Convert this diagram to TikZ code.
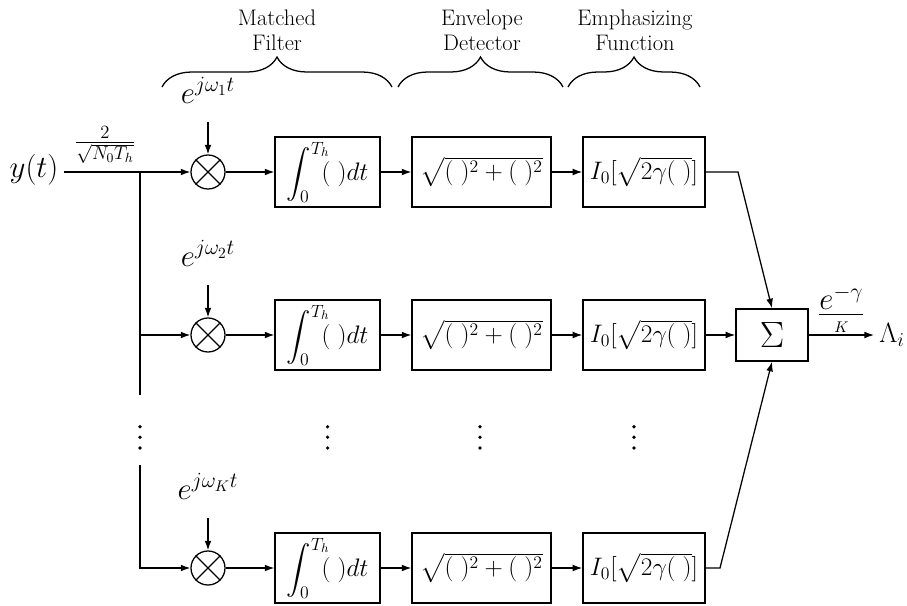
\documentclass[tikz,border=0pt]{standalone}
\usepackage{fix-cm}
\usepackage{amsmath}
\usetikzlibrary{arrows.meta,positioning,calc,decorations.pathreplacing}

\begin{document}
\begin{tikzpicture}[
  font=\fontsize{18}{22}\selectfont,
  >={Latex[length=2.4mm,width=1.7mm]},
  line width=0.9pt,
  block/.style={draw, line width=1pt, minimum height=1.75cm, inner sep=1pt},
  mixer/.style={draw, circle, inner sep=0pt, minimum size=0.85cm},
  biglbl/.style={font=\fontsize{22}{26}\selectfont},
  title/.style={align=center, font=\fontsize{16}{18}\selectfont},
  grp/.style={decorate, decoration={brace, amplitude=0.75cm}},
]
\useasboundingbox (0,0) rectangle (22.675,-15.15);

% Titles over the three stages
\node[title] (tMF) at (6.925,-0.76)  {Matched\\Filter};
\node[title] (tED) at (12.05,-0.76)  {Envelope\\Detector};
\node[title] (tEF) at (15.875,-0.76) {Emphasizing\\Function};

% Braces under the titles
\coordinate (b1l) at (4.05,-2.175);  \coordinate (b1r) at (9.8,-2.175);
\coordinate (b2l) at (9.95,-2.175);  \coordinate (b2r) at (14.075,-2.175);
\coordinate (b3l) at (14.2,-2.175);  \coordinate (b3r) at (17.5,-2.175);
\draw[grp] (b1l) -- (b1r);
\draw[grp] (b2l) -- (b2r);
\draw[grp] (b3l) -- (b3r);

% Input y(t) with gain
\node[biglbl] (yt) at (0.85,-4.25) {$y(t)$};
\coordinate (split) at (3.5,-4.3);
\draw (yt.east |- split) -- (split);
\node[font=\fontsize{19}{22}\selectfont] (gain) at (2.625,-3.62) {$\frac{2}{\sqrt{N_0T_h}}$};

% Branches: mixer -> integrator -> envelope -> emphasizing
\foreach \i/\y/\w in {1/-4.3/1, 2/-8.375/2, 3/-14.2/K} {
  \node[mixer] (m\i) at (5.2,\y) {};
  \draw (m\i.north west) -- (m\i.south east) (m\i.north east) -- (m\i.south west);
  \node[biglbl, anchor=base] (w\i) at (5.2,\y+1.725) {$e^{j\omega_\w t}$};
  \coordinate (a\i) at (5.2,\y+1.25);
  \draw[->] (a\i) -- (m\i);
  \node[block, minimum width=2.625cm] (int\i) at (8.19,\y) {$\displaystyle\int_0^{T_h}\!\!(\;)dt$};
  \node[block, minimum width=3.475cm] (env\i) at (12.04,\y) {$\sqrt{(\;)^2+(\;)^2}$};
  \node[block, minimum width=3.05cm]  (emp\i) at (16.1,\y) {$I_0[\sqrt{2\gamma(\;)}]$};
  \draw[->] (m\i)   -- (int\i);
  \draw[->] (int\i) -- (env\i);
  \draw[->] (env\i) -- (emp\i);
}

% Feed lines from the split point
\coordinate (gapT) at (3.5,-9.875);
\coordinate (gapB) at (3.5,-11.625);
\draw[->] (split) -- (m1);
\draw (split) -- (gapT);
\draw[->] (split |- m2) -- (m2);
\draw[->] (gapB) |- (m3);

% Vertical dots
\foreach \x in {3.5,8.19,12.0,15.85}
  \foreach \y in {-10.67,-10.93,-11.2}
    \fill (\x,\y) circle (1.3pt);

% Summation and output
\node[block, minimum width=1.8cm, minimum height=1.3cm, font=\fontsize{26}{30}\selectfont] (sum) at (19.3,-8.375) {$\Sigma$};
\coordinate (k1) at (18.45,-4.3);
\coordinate (k3) at (18.0,-14.2);
\draw[->] (emp1) -- (k1) -- (sum.north);
\draw[->] (emp2) -- (sum);
\draw[->] (emp3) -- (k3) -- (sum.south);

\node[font=\fontsize{20}{24}\selectfont] (out) at (22.3,-8.375) {$\Lambda_i$};
\draw[->] (sum) -- node[above=-2pt, biglbl] (wt) {$\frac{\textstyle e^{-\gamma}}{\scriptscriptstyle K}$} (out);

\end{tikzpicture}
\end{document}
